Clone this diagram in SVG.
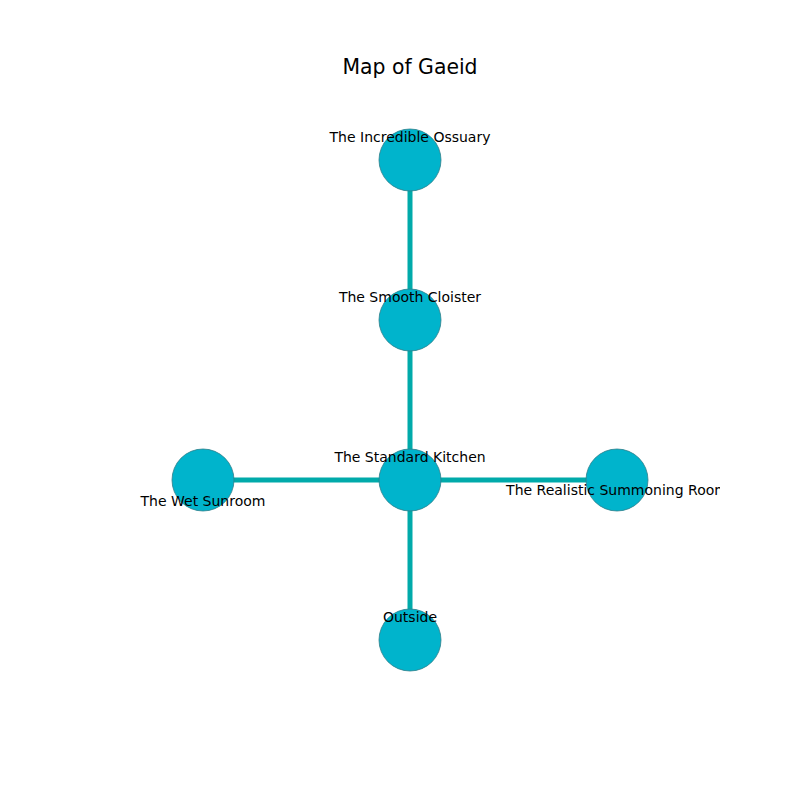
<svg xmlns="http://www.w3.org/2000/svg" width="800" height="800" viewBox="0 0 800 800">
<style>
.n{fill:#00b4cc;stroke:#2e7f8a;stroke-width:0.8}
.e{stroke:#00aaaa;stroke-width:5;fill:none}
.l{font-family:"DejaVu Sans",sans-serif;font-size:14px;fill:#000;text-anchor:middle;dominant-baseline:central}
.t{font-family:"DejaVu Sans",sans-serif;font-size:20.4px;fill:#000;text-anchor:middle;dominant-baseline:central}
</style>
<defs><clipPath id="ax"><rect x="80" y="80" width="640" height="640"/></clipPath></defs>
<rect width="800" height="800" fill="#fff"/>
<text class="t" x="410" y="67">Map of Gaeid</text>
<g id="connectors">
<line class="e" x1="410" y1="160" x2="410" y2="320"/>
<line class="e" x1="410" y1="320" x2="410" y2="480"/>
<line class="e" x1="410" y1="480" x2="410" y2="640"/>
<line class="e" x1="203" y1="480" x2="410" y2="480"/>
<line class="e" x1="410" y1="480" x2="617" y2="480"/>
</g>
<g id="ossuary"><circle class="n" cx="410" cy="160" r="31"/><text class="l" x="410" y="137">The Incredible Ossuary</text></g>
<g id="cloister"><circle class="n" cx="410" cy="320" r="31"/><text class="l" x="410" y="297">The Smooth Cloister</text></g>
<g id="kitchen"><circle class="n" cx="410" cy="480" r="31"/><text class="l" x="410" y="457">The Standard Kitchen</text></g>
<g id="sunroom"><circle class="n" cx="203" cy="480" r="31"/><text class="l" x="203" y="501">The Wet Sunroom</text></g>
<g id="summoning"><circle class="n" cx="617" cy="480" r="31"/><text class="l" x="617" y="490" clip-path="url(#ax)">The Realistic Summoning Room</text></g>
<g id="outside"><circle class="n" cx="410" cy="640" r="31"/><text class="l" x="410" y="617">Outside</text></g>
</svg>
